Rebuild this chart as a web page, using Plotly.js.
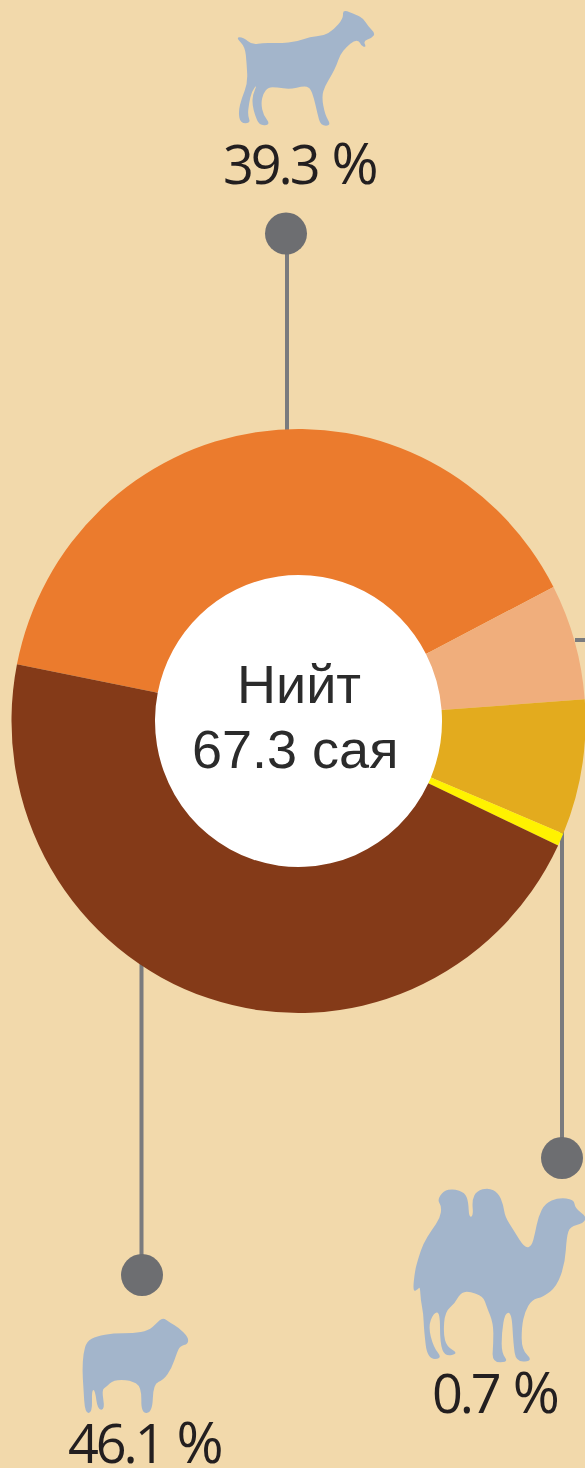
<!DOCTYPE html>
<html><head><meta charset="utf-8">
<script src="https://cdn.plot.ly/plotly-3.0.1.min.js"></script>
<style>html,body{margin:0;padding:0;background:#F2D9AB;width:585px;height:1468px;overflow:hidden}
.pielayer{transform-origin:298.5px 721px;transform:scale(0.9931,1.0104)}</style>
</head><body><div id="chart"></div>
<script>
const categories = ['Ямаа','Адуу','Үхэр','Тэмээ','Хонь'];
const shares = [39.3, 6.4, 7.5, 0.7, 46.1];
const sliceColors = ['#EB7B2D','#F0AE7C','#E3AB1E','#FFF200','#843A18'];
const centerLines = ['Нийт','67.3 сая'];
const goatOutline = [[107,112],[130,112],[158,135],[190,128],[240,130],[290,125],[330,110],[370,108],[400,90],[430,55],[428,28],[470,45],[490,55],[505,80],[526,100],[515,115],[490,122],[499,142],[483,138],[478,122],[462,122],[440,140],[420,165],[410,195],[395,225],[375,258],[365,290],[375,345],[394,377],[362,377],[352,340],[342,295],[330,262],[310,258],[270,268],[230,262],[205,262],[190,280],[183,310],[190,345],[212,374],[178,377],[165,345],[157,315],[158,285],[172,252],[155,275],[147,310],[143,345],[152,370],[121,370],[115,335],[125,295],[143,250],[140,190],[135,140]];
const camelOutline = [[38,486],[45,420],[55,385],[70,340],[95,300],[120,265],[125,230],[112,210],[130,183],[160,176],[195,188],[205,215],[207,262],[220,258],[216,210],[230,183],[265,173],[295,188],[310,225],[315,260],[340,300],[375,355],[395,348],[405,310],[415,260],[435,220],[475,203],[522,208],[525,235],[560,260],[550,280],[510,290],[500,320],[495,400],[470,470],[430,500],[395,510],[375,545],[365,590],[365,660],[400,692],[348,697],[340,640],[335,548],[315,548],[305,610],[305,670],[326,697],[276,697],[280,640],[280,580],[260,530],[250,500],[205,483],[180,490],[165,520],[135,545],[130,610],[140,650],[176,670],[135,680],[120,640],[120,545],[100,550],[85,590],[100,650],[128,687],[82,687],[72,600],[70,550],[62,510],[60,470],[54,478]];
const sheepOutline = [[100,340],[110,305],[140,288],[190,280],[250,280],[295,272],[320,250],[338,232],[360,248],[385,262],[415,292],[414,312],[390,318],[380,340],[365,385],[340,420],[310,432],[307,518],[273,520],[275,440],[240,420],[190,420],[170,440],[155,450],[165,508],[143,510],[135,450],[125,450],[127,518],[105,520],[100,440],[97,390]];

const W = 620, H = 1468, CX = 298.5, CY = 721, R = 289;
const px = x => x / W, py = y => 1 - y / H;
const ICON = '#A3B5CB', GREY = '#6D6E71', LINE = '#7A7B7E', INK = '#231F20';

function outlinePath(pts, ox, oy) {
  const P = pts.map(p => [px(ox + p[0] / 3), py(oy + p[1] / 3)]);
  const m = (a, b) => ((a[0]+b[0])/2).toFixed(5) + ',' + ((a[1]+b[1])/2).toFixed(5);
  const n = P.length;
  let d = 'M' + m(P[n-1], P[0]);
  for (let i = 0; i < n; i++) d += ' Q' + P[i][0].toFixed(5) + ',' + P[i][1].toFixed(5) + ' ' + m(P[i], P[(i+1)%n]);
  return d + ' Z';
}
const icon = (pts, ox, oy) => ({type:'path', xref:'paper', yref:'paper', layer:'below', path:outlinePath(pts, ox, oy), fillcolor:ICON, line:{width:0}});
const seg = (x0,y0,x1,y1) => ({type:'line', xref:'paper', yref:'paper', layer:'below', x0:px(x0), y0:py(y0), x1:px(x1), y1:py(y1), line:{color:LINE, width:4}});
const disc = (x,y,rx,ry,c) => ({type:'circle', xref:'paper', yref:'paper', layer:'below', x0:px(x-rx), x1:px(x+rx), y0:py(y+ry), y1:py(y-ry), fillcolor:c, line:{width:0}});
const pct = (v,x,y) => ({xref:'paper', yref:'paper', x:px(x), y:py(y), xanchor:'left', yanchor:'middle', showarrow:false, borderpad:0,
  text:"<span style='letter-spacing:-3.1px'>"+v+"</span> <span style='font-size:57px'>%</span>", font:{family:'"Open Sans"', size:54, color:INK}});
const mid = (t,x,y) => ({xref:'paper', yref:'paper', x:px(x), y:py(y), xanchor:'center', yanchor:'middle', showarrow:false, borderpad:0,
  text:t, font:{family:'"Liberation Sans"', size:54, color:'#2B2B2B'}});

Plotly.newPlot('chart', [{
  type:'pie', labels:categories, values:shares, sort:false, direction:'clockwise', rotation:281.2,
  hole:0.5, textinfo:'none', hoverinfo:'label+value', marker:{colors:sliceColors, line:{width:0}},
  domain:{x:[px(CX-R), px(CX+R)], y:[py(CY+R), py(CY-R)]}, showlegend:false
}], {
  width:W, height:H, margin:{l:0,r:0,t:0,b:0,pad:0}, paper_bgcolor:'#F2D9AB', plot_bgcolor:'#F2D9AB', showlegend:false,
  shapes:[
    disc(CX,CY,147,149,'#FFFFFF'),
    seg(287,234,287,432), seg(141.5,960,141.5,1275), seg(562,830,562,1158), seg(575,640,600,640),
    disc(286,233.5,21,21,GREY), disc(142,1275,21,21,GREY), disc(562,1158,21,21,GREY),
    icon(goatOutline,200,0), icon(camelOutline,400,1130), icon(sheepOutline,50,1240)
  ],
  annotations:[
    pct(shares[0],222,162.5), pct(shares[4],67,1440.5), pct(shares[3],431,1390.5),
    mid(centerLines[0],299,684), mid(centerLines[1],294.5,749)
  ]
}, {displayModeBar:false, staticPlot:true});
</script></body></html>
